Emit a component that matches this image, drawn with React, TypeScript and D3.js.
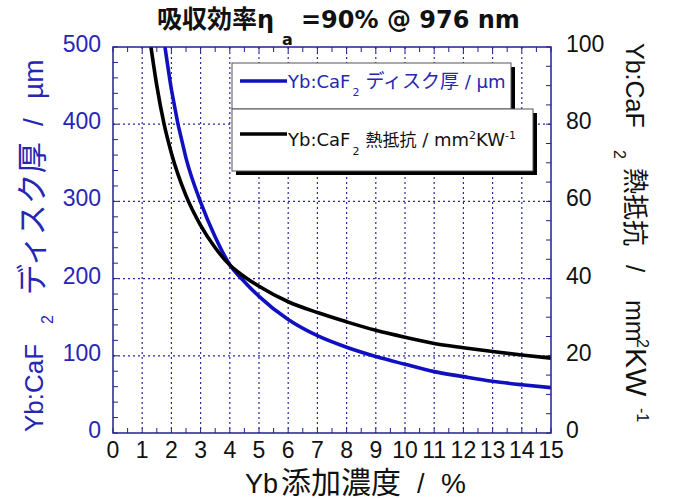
import React from "react";
import * as d3 from "d3";

// ---- data ----
const thickConc = [1.78, 2.0, 2.5, 3.0, 3.5, 4.0, 4.5, 5.0, 6.0, 7.0, 8.0, 9.0, 10, 11, 12, 13, 14, 15];
const thickValues = [500, 445, 356, 299, 254, 218, 196, 177, 147, 126, 111, 99, 89, 79.5, 73, 67, 62.5, 58.7];

const resConc = [1.3, 1.5, 1.75, 2.0, 2.5, 3.0, 3.5, 4.0, 4.5, 5.0, 6.0, 7.0, 8.0, 9.0, 10, 11, 12, 13, 14, 15];
const resValues = [100, 90, 80, 72.5, 61.5, 53.8, 48, 43.5, 40.5, 38, 34, 31.2, 28.8, 26.6, 24.8, 23.2, 22.1, 21.1, 20.2, 19.4];

const xTickLabels = [0, 1, 2, 3, 4, 5, 6, 7, 8, 9, 10, 11, 12, 13, 14, 15];
const leftTickLabels = [0, 100, 200, 300, 400, 500];
const rightTickLabels = [0, 20, 40, 60, 80, 100];

// ---- styling ----
const W = 683, H = 499;
const M = { left: 113, top: 47, right: 551, bottom: 433 };
const NAVY = "#22228c";
const BLUE_TXT = "#2626b4";
const BLUE_LINE = "#1010c0";
const GRID = "#2a2aa0";
const LAT = "'Liberation Sans', Arial, 'Noto Sans CJK JP', sans-serif";
const CJK = "'Noto Sans CJK JP', 'Liberation Sans', sans-serif";
const DV = "'DejaVu Sans', Verdana, 'Noto Sans CJK JP', sans-serif";

export default function App() {
  const x = d3.scaleLinear().domain([0, 15]).range([M.left, M.right]);
  const yL = d3.scaleLinear().domain([0, 500]).range([M.bottom, M.top]);
  const yR = d3.scaleLinear().domain([0, 100]).range([M.bottom, M.top]);

  const lineL = d3
    .line<number>()
    .x((_, i) => x(thickConc[i]))
    .y((d) => yL(d))
    .curve(d3.curveMonotoneX);
  const lineR = d3
    .line<number>()
    .x((_, i) => x(resConc[i]))
    .y((d) => yR(d))
    .curve(d3.curveMonotoneX);

  const xMinor = d3.range(0, 15.001, 0.5);
  const lMinor = d3.range(0, 500.001, 20);
  const rMinor = d3.range(0, 100.001, 5);
  const TL = 5;

  return (
    <svg
      width={W}
      height={H}
      viewBox={`0 0 ${W} ${H}`}
      style={{ position: "absolute", left: 0, top: 0, background: "#fff" }}
    >
      <defs>
        <clipPath id="plotclip">
          <rect x={M.left} y={M.top} width={M.right - M.left} height={M.bottom - M.top} />
        </clipPath>
      </defs>
      <rect x={0} y={0} width={W} height={H} fill="#fff" />

      {/* grid */}
      {xTickLabels.slice(1, -1).map((v) => (
        <line key={"gx" + v} x1={x(v)} x2={x(v)} y1={M.top} y2={M.bottom} stroke={GRID} strokeWidth={1.2} strokeDasharray="2,3" />
      ))}
      {leftTickLabels.slice(1, -1).map((v) => (
        <line key={"gy" + v} x1={M.left} x2={M.right} y1={yL(v)} y2={yL(v)} stroke={GRID} strokeWidth={1.2} strokeDasharray="2,3" />
      ))}

      {/* ticks */}
      {xMinor.map((v) => (
        <g key={"xt" + v}>
          <line x1={x(v)} x2={x(v)} y1={M.bottom} y2={M.bottom - TL} stroke={NAVY} strokeWidth={1} />
          <line x1={x(v)} x2={x(v)} y1={M.top} y2={M.top + TL} stroke={NAVY} strokeWidth={1} />
        </g>
      ))}
      {lMinor.map((v) => (
        <line key={"lt" + v} x1={M.left} x2={M.left + TL} y1={yL(v)} y2={yL(v)} stroke={NAVY} strokeWidth={1} />
      ))}
      {rMinor.map((v) => (
        <line key={"rt" + v} x1={M.right} x2={M.right - TL} y1={yR(v)} y2={yR(v)} stroke={NAVY} strokeWidth={1} />
      ))}

      {/* curves */}
      <g clipPath="url(#plotclip)">
        <path d={lineL(thickValues) || ""} fill="none" stroke={BLUE_LINE} strokeWidth={3.6} />
        <path d={lineR(resValues) || ""} fill="none" stroke="#000" strokeWidth={3.6} />
      </g>

      {/* frame */}
      <rect x={M.left} y={M.top} width={M.right - M.left} height={M.bottom - M.top} fill="none" stroke={NAVY} strokeWidth={1.5} />

      {/* tick labels */}
      {xTickLabels.map((v) => (
        <text key={"xl" + v} x={x(v)} y={458} textAnchor="middle" fontFamily={LAT} fontSize={23} fill="#111">
          {v}
        </text>
      ))}
      {leftTickLabels.map((v) => (
        <text key={"ll" + v} x={101} y={yL(v) + 5} textAnchor="end" fontFamily={LAT} fontSize={23} fill={BLUE_TXT}>
          {v}
        </text>
      ))}
      {rightTickLabels.map((v) => (
        <text key={"rl" + v} x={566} y={yR(v) + 5} textAnchor="start" fontFamily={LAT} fontSize={23} fill="#111">
          {v}
        </text>
      ))}

      {/* bottom axis title */}
      <g fill="#111">
        <text x={245} y={493} fontFamily={LAT} fontSize={27}>Yb</text>
        <text x={281} y={493} fontFamily={CJK} fontSize={30}>添加濃度</text>
        <text x={417} y={493} fontFamily={LAT} fontSize={27}>/</text>
        <text x={441} y={493} fontFamily={LAT} fontSize={28}>%</text>
      </g>

      {/* left axis title */}
      <g transform="translate(43,432) rotate(-90)" fill={BLUE_TXT}>
        <text x={0} y={0} fontFamily={LAT} fontSize={26}>Yb:CaF</text>
        <text x={108} y={10} fontFamily={LAT} fontSize={16}>2</text>
        <text x={137} y={0} fontFamily={CJK} fontSize={31}>ディスク厚</text>
        <text x={306} y={0} fontFamily={LAT} fontSize={28}>/</text>
        <text x={333} y={0} fontFamily={LAT} fontSize={28}>µm</text>
      </g>

      {/* right axis title */}
      <g transform="translate(626,43) rotate(90)" fill="#111">
        <text x={0} y={0} fontFamily={LAT} fontSize={25}>Yb:CaF</text>
        <text x={107} y={12} fontFamily={LAT} fontSize={16}>2</text>
        <text x={125} y={0} fontFamily={CJK} fontSize={26}>熱抵抗</text>
        <text x={222} y={0} fontFamily={LAT} fontSize={26}>/</text>
        <text x={257} y={0} fontFamily={LAT} fontSize={25}>mm</text>
        <text x={296} y={-11} fontFamily={LAT} fontSize={16}>2</text>
        <text x={305} y={0} fontFamily={LAT} fontSize={30}>KW</text>
        <text x={365} y={-11} fontFamily={LAT} fontSize={16}>-1</text>
      </g>

      {/* title */}
      <text x={157} y={28} fontFamily={DV} fontWeight="bold" fontSize={24} fill="#111">
        <tspan fontFamily={CJK} fontSize={25}>吸収効率</tspan>η
      </text>
      <text x={282} y={45} fontFamily={DV} fontWeight="bold" fontSize={16} fill="#111">a</text>
      <text x={301} y={28} fontFamily={DV} fontWeight="bold" fontSize={24} fill="#111">=90% @ 976 nm</text>

      {/* legend */}
      <rect x={236} y={67} width={279} height={46} fill="#000" />
      <rect x={232} y={63} width={279} height={46} fill="#fff" stroke="#555" strokeWidth={1} />
      <rect x={236} y={113} width={301} height={62} fill="#000" />
      <rect x={232} y={109} width={301} height={62} fill="#fff" stroke="#555" strokeWidth={1} />

      <line x1={240} x2={287} y1={81} y2={81} stroke={BLUE_LINE} strokeWidth={3.6} />
      <text x={288} y={88} fontFamily={DV} fontSize={18} fill={BLUE_TXT}>
        Yb:CaF
        <tspan fontSize={11} dy={8} dx={2}>2</tspan>
        <tspan fontFamily={CJK} fontSize={19} dy={-8} dx={6}>ディスク厚</tspan>
        <tspan> / µm</tspan>
      </text>

      <line x1={240} x2={287} y1={134} y2={134} stroke="#000" strokeWidth={3.6} />
      <text x={288} y={146} fontFamily={DV} fontSize={18} fill="#111">
        Yb:CaF
        <tspan fontSize={11} dy={9} dx={2}>2</tspan>
        <tspan fontFamily={CJK} fontSize={17} dy={-9} dx={6}>熱抵抗</tspan>
        <tspan> / mm</tspan>
        <tspan fontSize={11} dy={-7}>2</tspan>
        <tspan dy={7}>KW</tspan>
        <tspan fontSize={11} dy={-7}>-1</tspan>
      </text>
    </svg>
  );
}
